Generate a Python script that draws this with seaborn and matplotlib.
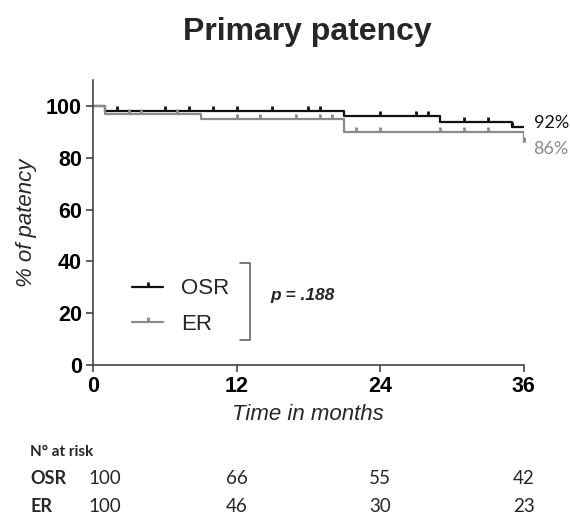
import matplotlib
matplotlib.use("Agg")
import matplotlib.pyplot as plt
from matplotlib.path import Path
from matplotlib.lines import Line2D
import matplotlib.transforms as mtrans
import seaborn as sns
import numpy as np

# Kaplan-Meier steps (months, % patency)
osr_time = [0, 1, 21, 29, 35, 36]
osr_surv = [100, 98, 96, 94, 92, 92]
er_time = [0, 1, 9, 21, 36]
er_surv = [100, 97, 95, 90, 86]

# censored observations
osr_cens = [2, 6, 8, 10, 12, 15, 18, 19, 24, 27, 28, 31, 33, 35]
er_cens = [3, 4, 7, 12, 14, 17, 19, 20, 22, 24, 29, 31, 33, 36]

groups = ["OSR", "ER"]
risk_times = [0, 12, 24, 36]
osr_risk = [100, 66, 55, 42]
er_risk = [100, 46, 30, 23]

black = "#111111"
grey = "#8a8a8a"


def surv_at(times, surv, t):
    i = np.searchsorted(times, t, side="right") - 1
    return surv[i]


sns.set_style("ticks")
plt.rcParams["font.family"] = ["Liberation Sans", "DejaVu Sans"]

fig = plt.figure(figsize=(5.7, 5.17), dpi=100)
ax = fig.add_axes([0.163, 0.294, 0.756, 0.551])

# tick marker pointing up from the curve
tick = Path([(0, 0), (0, 1)], [Path.MOVETO, Path.LINETO])

for t, s, c, col in [(osr_time, osr_surv, osr_cens, black), (er_time, er_surv, er_cens, grey)]:
    sns.lineplot(x=t, y=s, drawstyle="steps-post", color=col, lw=1.6,
                 estimator=None, sort=False, ax=ax)
    ys = [surv_at(t, s, v) for v in c]
    sns.scatterplot(x=c, y=ys, marker=tick, s=60, color=col, edgecolor=col,
                    linewidth=2, ax=ax, zorder=3, clip_on=False)

ax.set_xlim(0, 36)
ax.set_ylim(0, 110)
ax.set_xticks(risk_times)
ax.set_yticks([0, 20, 40, 60, 80, 100])
sns.despine(ax=ax)
for sp in ["left", "bottom"]:
    ax.spines[sp].set_color("#444444")
    ax.spines[sp].set_linewidth(1.2)
ax.tick_params(colors="#444444", width=1.2, length=5, labelcolor="black",
               labelsize=15.5, pad=3)
for lab in ax.get_xticklabels() + ax.get_yticklabels():
    lab.set_fontweight("bold")

ax.set_xlabel("Time in months", fontsize=16, style="italic", labelpad=5)
ax.set_ylabel("% of patency", fontsize=16, style="italic", labelpad=6)
fig.suptitle("Primary patency", fontsize=23, fontweight="bold", x=0.54, y=0.968)

# end values
ax.annotate(f"{osr_surv[-1]}%", (36, osr_surv[-1]), xytext=(7, 3), textcoords="offset points",
            va="center", fontsize=13, color=black, family="Lato", annotation_clip=False)
ax.annotate(f"{er_surv[-1]}%", (36, er_surv[-1]), xytext=(7, -4.5), textcoords="offset points",
            va="center", fontsize=13, color=grey, family="Lato", annotation_clip=False)

# legend
handles = [Line2D([], [], color=black, lw=1.6, marker=tick, markersize=7, mew=2),
           Line2D([], [], color=grey, lw=1.6, marker=tick, markersize=7, mew=2)]
ax.legend(handles, groups, loc="center left", bbox_to_anchor=(0.07, 0.205),
          frameon=False, fontsize=16, handlelength=1.4, labelspacing=0.65,
          numpoints=1, borderaxespad=0)

# bracket and p value
ax.plot([0.341, 0.364, 0.364, 0.341], [0.358, 0.358, 0.088, 0.088],
        transform=ax.transAxes, color="#555555", lw=1.1, clip_on=False)
ax.text(0.411, 0.245, "p = .188", transform=ax.transAxes, fontsize=12.5,
        fontweight="bold", style="italic", va="center")

# numbers at risk
tr = mtrans.blended_transform_factory(ax.transData, fig.transFigure)
fig.text(0.053, 0.126, "N° at risk", fontsize=11, fontweight="bold", family="Lato", va="center")
for row_y, name, counts in [(0.074, groups[0], osr_risk), (0.021, groups[1], er_risk)]:
    fig.text(0.053, row_y, name, fontsize=13, fontweight="bold", family="Lato", va="center")
    for i, (t, n) in enumerate(zip(risk_times, counts)):
        ax.text(t - 0.35 if i == 0 else t, row_y, str(n), transform=tr,
                ha="left" if i == 0 else "center", va="center",
                fontsize=13.5, family="Lato")

fig.savefig("out.png", dpi=100)
